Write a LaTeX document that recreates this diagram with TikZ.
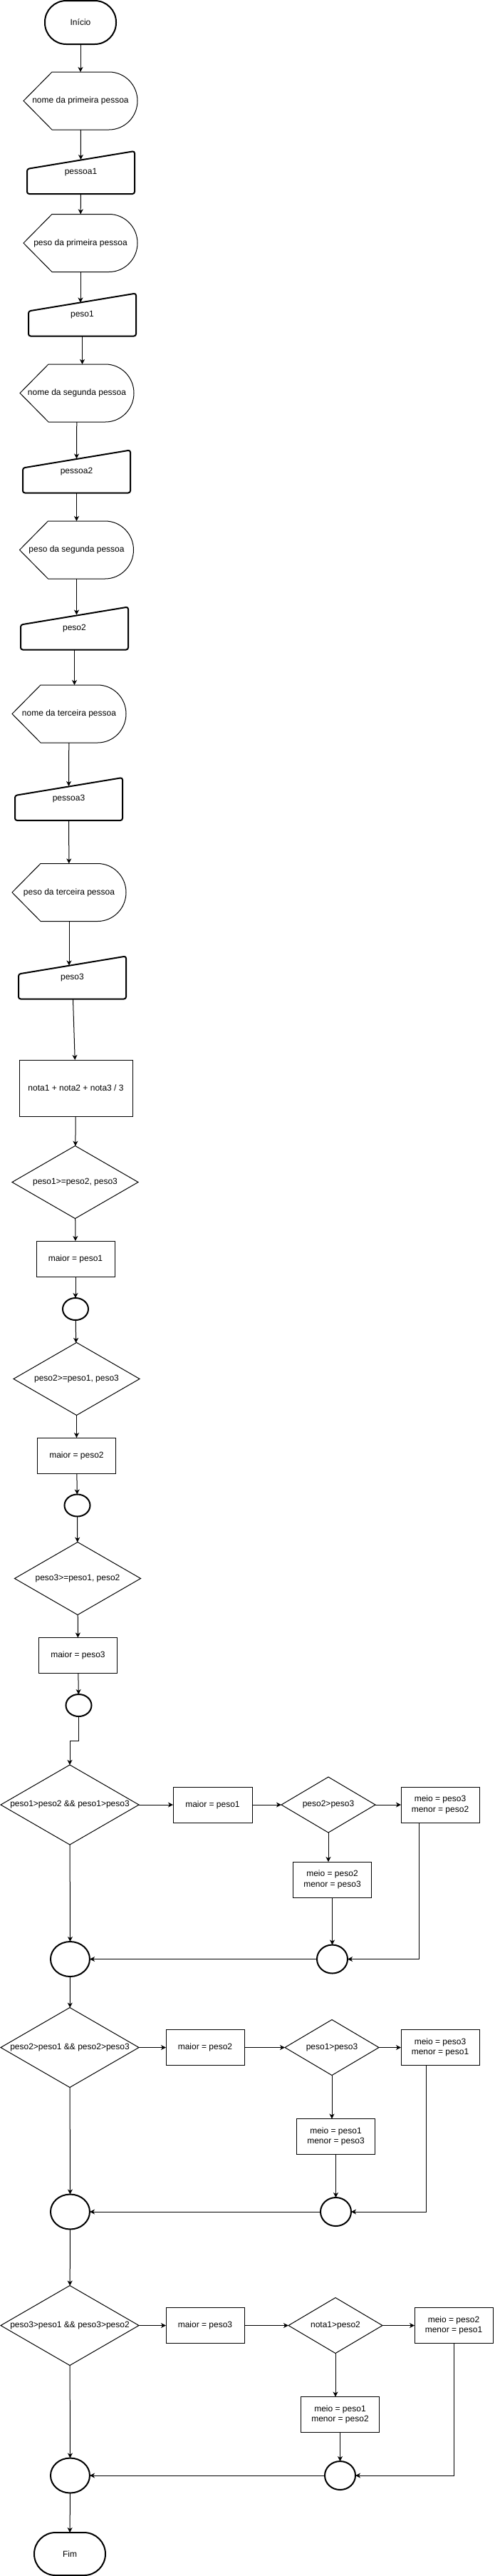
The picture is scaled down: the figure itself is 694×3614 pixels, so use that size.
\documentclass[tikz,border=0pt]{standalone}
\usepackage{fontspec}
\setmainfont{Liberation Sans}
\usepackage{tikz}
\usetikzlibrary{arrows.meta}
\usetikzlibrary{calc}
\usetikzlibrary{positioning}
\usetikzlibrary{shapes.geometric}

\begin{document}
\begin{tikzpicture}[x=1pt,y=-1pt,
		every node/.style={font=\fontsize{12}{14.4}\selectfont,inner sep=0pt,outer sep=0pt},
		terminal/.style={draw,line width=2pt,rectangle,rounded corners=30pt,minimum width=100pt,minimum height=61pt},
		display/.style={rectangle,minimum width=160pt,minimum height=81pt},
		manual/.style={rectangle,minimum width=151pt,minimum height=60pt},
		process/.style={draw,line width=1pt,rectangle,minimum width=110pt,minimum height=50pt,align=center},
		decision/.style={draw,line width=1pt,diamond,aspect=1.73,minimum width=177pt,minimum height=102pt},
		bigdecision/.style={decision,minimum width=194pt,minimum height=112pt},
		smalldecision/.style={decision,minimum width=132pt,minimum height=78pt},
		joint/.style={draw,line width=2pt,ellipse,minimum width=36pt,minimum height=31pt},
		bigjoint/.style={joint,minimum width=55pt,minimum height=49pt},
		smalljoint/.style={joint,minimum width=43pt,minimum height=40pt},
		arrow/.style={line width=1pt,-{Stealth[length=7pt,width=7pt,inset=2pt]}}]
		\useasboundingbox (0,0) rectangle (694,3614);

		\node [terminal] (start) at (113,31.5) {Início};
		\node [display] (askname1) at (113,141.5) {nome da primeira pessoa};
		\node [manual] (name1) at (113.5,242) {pessoa1};
		\node [display] (askweight1) at (113,341) {peso da primeira pessoa};
		\node [manual] (weight1) at (115.5,441.5) {peso1};
		\node [display] (askname2) at (108,551.5) {nome da segunda pessoa};
		\node [manual] (name2) at (107.5,661.5) {pessoa2};
		\node [display] (askweight2) at (107.5,771.5) {peso da segunda pessoa};
		\node [manual] (weight2) at (104.5,881.5) {peso2};
		\node [display] (askname3) at (97,1001.5) {nome da terceira pessoa};
		\node [manual] (name3) at (96.5,1121) {pessoa3};
		\node [display] (askweight3) at (97,1252) {peso da terceira pessoa};
		\node [manual] (weight3) at (101.5,1371.5) {peso3};
		\node [process,minimum width=159pt,minimum height=79pt] (average) at (106.5,1526.5) {nota1 + nota2 + nota3 / 3};
		\node [decision] (check1) at (105.5,1658.5) {peso1>=peso2, peso3};
		\node [process] (max1) at (106,1766) {maior = peso1};
		\node [joint] (join1) at (106,1836.5) {};
		\node [decision] (check2) at (107.5,1934.5) {peso2>=peso1, peso3};
		\node [process] (max2) at (107.5,2042) {maior = peso2};
		\node [joint] (join2) at (108.5,2112) {};
		\node [decision] (check3) at (109,2214.5) {peso3>=peso1, peso2};
		\node [process] (max3) at (109.5,2322.5) {maior = peso3};
		\node [joint] (join3) at (110.5,2392.5) {};

		\node [bigdecision] (cond1) at (98,2532) {peso1>peso2 \&\& peso1>peso3};
		\node [process,minimum width=111pt,right=48pt of cond1] (high1) {maior = peso1};
		\node [smalldecision,right=41pt of high1] (cmp1) {peso2>peso3};
		\node [process,right=36pt of cmp1] (right1) {meio = peso3\\menor = peso2};
		\node [process,below=41pt of cmp1,xshift=5.5pt] (low1) {meio = peso2\\menor = peso3};
		\node [bigjoint] (merge1) at (98.5,2748.5) {};
		\node [smalljoint] (sub1) at (low1 |- merge1) {};

		\node [bigdecision] (cond2) at (98,2872.5) {peso2>peso1 \&\& peso2>peso3};
		\node [process,right=38pt of cond2] (high2) {maior = peso2};
		\node [smalldecision,right=57pt of high2] (cmp2) {peso1>peso3};
		\node [process,right=31pt of cmp2] (right2) {meio = peso3\\menor = peso1};
		\node [process,below=61pt of cmp2,xshift=5.5pt] (low2) {meio = peso1\\menor = peso3};
		\node [bigjoint] (merge2) at (98.5,3103) {};
		\node [smalljoint] (sub2) at (low2 |- merge2) {};

		\node [bigdecision] (cond3) at (98,3262.5) {peso3>peso1 \&\& peso3>peso2};
		\node [process,right=38pt of cond3] (high3) {maior = peso3};
		\node [smalldecision,right=62pt of high3] (cmp3) {nota1>peso2};
		\node [process,right=45pt of cmp3] (right3) {meio = peso2\\menor = peso1};
		\node [process,below=61pt of cmp3,xshift=6.5pt] (low3) {meio = peso1\\menor = peso2};
		\node [bigjoint] (merge3) at (98.5,3473) {};
		\node [smalljoint] (sub3) at (low3 |- merge3) {};
		\node [terminal,minimum height=60pt] (stop) at (98,3583) {Fim};

		\foreach \n in {askname1,askweight1,askname2,askweight2,askname3,askweight3}
			\draw [line width=1pt] (\n.west) -- ([xshift=40pt]\n.north west) -- ([xshift=-40pt]\n.north east)
				arc [start angle=90,end angle=-90,x radius=40pt,y radius=40.5pt] -- ([xshift=40pt]\n.south west) -- cycle;
		\foreach \n in {name1,weight1,name2,weight2,name3,weight3}
			\draw [line width=2pt,rounded corners=3pt] (\n.south west) -- ([yshift=-25pt]\n.north west) -- (\n.north east) -- (\n.south east) -- cycle;

		\draw [arrow] (start) -- (askname1);
		\draw [arrow] (askname1) -- ([yshift=-12pt]name1.north);
		\draw [arrow] (name1) -- (askweight1);
		\draw [arrow] (askweight1) -- ([yshift=-13pt]askweight1 |- weight1.north);
		\draw [arrow] (weight1) -- (weight1 |- askname2.north);
		\draw [arrow] (askname2) -- ([yshift=-12pt]name2.north);
		\draw [arrow] (name2) -- (askweight2);
		\draw [arrow] (askweight2) -- ([yshift=-11pt]askweight2 |- weight2.north);
		\draw [arrow] (weight2) -- (weight2 |- askname3.north);
		\draw [arrow] (askname3) -- ([yshift=-12pt]name3.north);
		\draw [arrow] (name3) -- (askweight3);
		\draw [arrow] (askweight3) -- ([yshift=-13pt]askweight3 |- weight3.north);
		\draw [arrow] (weight3) -- (average);
		\draw [arrow] (average) -- (check1);
		\draw [arrow] (check1) -- (max1);
		\draw [arrow] (max1) -- (join1);
		\draw [arrow] (join1) -- (check2);
		\draw [arrow] (check2) -- (max2);
		\draw [arrow] (max2) -- (join2);
		\draw [arrow] (join2) -- (check3);
		\draw [arrow] (check3) -- (max3);
		\draw [arrow] (max3) -- (join3);
		\draw [arrow] (join3.south) |- ($(join3.south)!0.5!(cond1.north)$) -| (cond1);

		\draw [arrow] (cond1) -- (high1);
		\draw [arrow] (high1) -- (cmp1);
		\draw [arrow] (cmp1) -- (right1);
		\draw [arrow] (cmp1.south) -- (cmp1.south |- low1.north);
		\draw [arrow] (low1) -- (sub1);
		\draw [arrow] ([xshift=-29.5pt]right1.south) |- (sub1);
		\draw [arrow] (sub1) -- (merge1);
		\draw [arrow] (cond1) -- (merge1);
		\draw [arrow] (merge1) -- (cond2);

		\draw [arrow] (cond2) -- (high2);
		\draw [arrow] (high2) -- (cmp2);
		\draw [arrow] (cmp2) -- (right2);
		\draw [arrow] (cmp2.south) -- (cmp2.south |- low2.north);
		\draw [arrow] (low2) -- (sub2);
		\draw [arrow] ([xshift=-19.5pt]right2.south) |- (sub2);
		\draw [arrow] (sub2) -- (merge2);
		\draw [arrow] (cond2) -- (merge2);
		\draw [arrow] (merge2) -- (cond3);

		\draw [arrow] (cond3) -- (high3);
		\draw [arrow] (high3) -- (cmp3);
		\draw [arrow] (cmp3) -- (right3);
		\draw [arrow] (cmp3.south) -- (cmp3.south |- low3.north);
		\draw [arrow] (low3) -- (sub3);
		\draw [arrow] (right3) |- (sub3);
		\draw [arrow] (sub3) -- (merge3);
		\draw [arrow] (cond3) -- (merge3);
		\draw [arrow] (merge3) -- (stop);
	\end{tikzpicture}
\end{document}
